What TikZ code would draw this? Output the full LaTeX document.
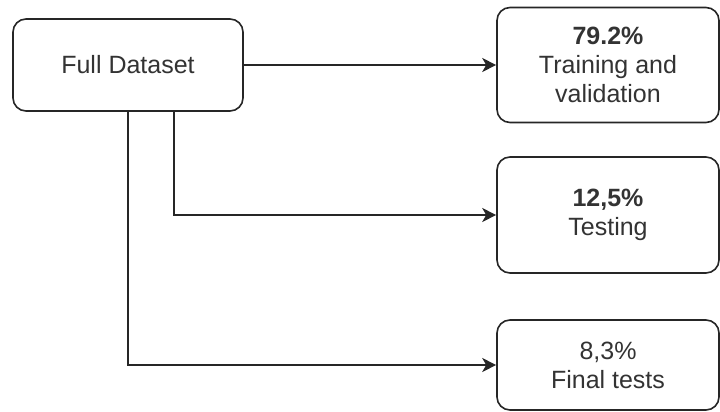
\documentclass[tikz,border=0pt]{standalone}
\usepackage{fontspec}
\setmainfont{Liberation Sans}
\usetikzlibrary{arrows.meta}
\begin{document}
\begin{tikzpicture}[x=1pt,y=-1pt,
  box/.style={draw=black!85, line width=1.6pt, rounded corners=13pt, fill=white,
    align=center, inner sep=0pt, font=\fontsize{25}{29}\selectfont, text=black!80},
  conn/.style={draw=black!85, line width=1.6pt, -{Stealth[length=14pt,width=14pt,inset=4pt]}}]
\useasboundingbox (0,0) rectangle (720,412);
\node[box, minimum width=230pt, minimum height=92pt] (full) at (128,65) {Full Dataset};
\node[box, minimum width=222pt, minimum height=115pt] (train) at (608,65) {\textbf{79.2\%}\\Training and\\validation};
\node[box, minimum width=222pt, minimum height=116pt] (test) at (608,215) {\textbf{12,5\%}\\Testing};
\node[box, minimum width=222pt, minimum height=90pt] (final) at (608,365) {8,3\%\\Final tests};
\coordinate (s2) at (174,111);
\coordinate (s3) at (128,111);
\draw[conn] (full.east) -- (train.west);
\draw[conn] (s2) |- (test.west);
\draw[conn] (s3) |- (final.west);
\end{tikzpicture}
\end{document}
